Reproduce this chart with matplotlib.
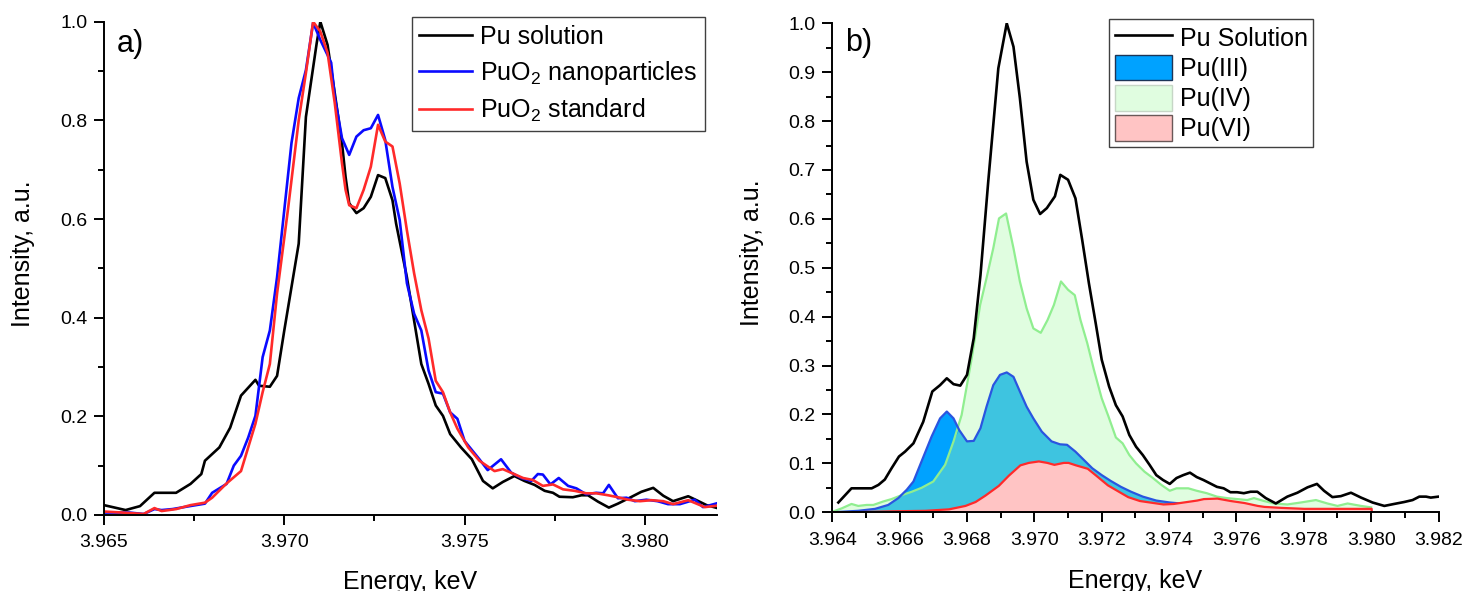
import numpy as np
import matplotlib
matplotlib.use('Agg')
import matplotlib.pyplot as plt
from matplotlib.ticker import MultipleLocator, FormatStrFormatter
from matplotlib.patches import Patch
from matplotlib.lines import Line2D

plt.rcParams['font.family'] = ['Liberation Sans', 'DejaVu Sans']
plt.rcParams['mathtext.fontset'] = 'custom'
plt.rcParams['mathtext.rm'] = 'Liberation Sans'
plt.rcParams['mathtext.it'] = 'Liberation Sans:italic'

# ---- panel a) data ----
sol_a_x = [3.9650, 3.9656, 3.9660, 3.9664, 3.9670, 3.9674, 3.9677, 3.9678, 3.9682, 3.9685,
           3.9688, 3.9692, 3.9693, 3.9696, 3.9698, 3.9700, 3.9704, 3.9706, 3.9709, 3.9710,
           3.9712, 3.9714, 3.9716, 3.9717, 3.9718, 3.9720, 3.9722, 3.9724, 3.9726, 3.9728,
           3.9730, 3.9731, 3.9734, 3.9736, 3.9738, 3.9740, 3.9742, 3.9744, 3.9746, 3.9749,
           3.9752, 3.97551, 3.97578, 3.97606, 3.97638, 3.97666, 3.97694, 3.97722, 3.97745, 3.97763,
           3.97800, 3.97824, 3.97842, 3.97870, 3.97900, 3.97925, 3.97958, 3.97990, 3.98023, 3.98051,
           3.98078, 3.98120, 3.98143, 3.98171, 3.98201]
sol_a_y = [0.020, 0.010, 0.018, 0.045, 0.045, 0.063, 0.083, 0.110, 0.137, 0.177,
           0.242, 0.274, 0.262, 0.260, 0.282, 0.374, 0.550, 0.807, 0.957, 1.000,
           0.953, 0.855, 0.754, 0.685, 0.632, 0.612, 0.622, 0.645, 0.689, 0.683,
           0.638, 0.591, 0.482, 0.394, 0.306, 0.266, 0.222, 0.201, 0.164, 0.137,
           0.113, 0.069, 0.054, 0.067, 0.079, 0.069, 0.061, 0.049, 0.045, 0.037,
           0.036, 0.040, 0.040, 0.027, 0.015, 0.023, 0.035, 0.047, 0.055, 0.039,
           0.028, 0.038, 0.030, 0.020, 0.014]

nano_x = [3.9650, 3.9657, 3.9661, 3.9664, 3.9666, 3.9669, 3.9673, 3.9678, 3.9680, 3.9684,
          3.9686, 3.9688, 3.9690, 3.9692, 3.9694, 3.9696, 3.9698, 3.9700, 3.9702, 3.9704,
          3.9706, 3.9708, 3.9710, 3.9713, 3.9714, 3.9716, 3.9718, 3.9720, 3.9722, 3.9724,
          3.9726, 3.9728, 3.9730, 3.9732, 3.9734, 3.9736, 3.9738, 3.9740, 3.9742, 3.9744,
          3.9746, 3.9748, 3.9750, 3.97541, 3.97564, 3.97601, 3.97629, 3.97657, 3.97685, 3.97703,
          3.97717, 3.97738, 3.97761, 3.97787, 3.97810, 3.97837, 3.97865, 3.97884, 3.97900, 3.97925,
          3.97949, 3.97972, 3.98004, 3.98035, 3.98064, 3.98097, 3.98138, 3.98161, 3.98201]
nano_y = [0.005, 0.005, 0.002, 0.012, 0.010, 0.012, 0.017, 0.023, 0.045, 0.063,
          0.100, 0.120, 0.157, 0.201, 0.320, 0.374, 0.482, 0.618, 0.754, 0.845,
          0.902, 0.998, 0.963, 0.917, 0.848, 0.764, 0.730, 0.767, 0.780, 0.784,
          0.811, 0.760, 0.665, 0.598, 0.470, 0.408, 0.374, 0.293, 0.249, 0.246,
          0.208, 0.195, 0.150, 0.113, 0.091, 0.113, 0.086, 0.075, 0.069, 0.083,
          0.082, 0.062, 0.075, 0.059, 0.054, 0.042, 0.045, 0.044, 0.061, 0.034,
          0.035, 0.028, 0.031, 0.028, 0.022, 0.022, 0.031, 0.016, 0.024]

std_x = [3.9650, 3.9655, 3.9661, 3.9664, 3.9666, 3.9670, 3.9674, 3.9678, 3.9680, 3.9684,
         3.9688, 3.9692, 3.9694, 3.9696, 3.9698, 3.9701, 3.9704, 3.9706, 3.9708, 3.9710,
         3.9712, 3.9714, 3.9716, 3.9717, 3.9718, 3.9720, 3.9722, 3.9724, 3.9726, 3.9728,
         3.9730, 3.9732, 3.9734, 3.9736, 3.9738, 3.9740, 3.9742, 3.9744, 3.9746, 3.9748,
         3.9751, 3.97541, 3.97583, 3.97606, 3.97634, 3.97662, 3.97689, 3.97717, 3.97745, 3.97773,
         3.97805, 3.97837, 3.97865, 3.97898, 3.97925, 3.97953, 3.97986, 3.98018, 3.98051, 3.98078,
         3.98120, 3.98166, 3.98201]
std_y = [0.007, 0.005, 0.002, 0.014, 0.008, 0.012, 0.020, 0.025, 0.035, 0.064,
         0.089, 0.185, 0.249, 0.306, 0.449, 0.618, 0.800, 0.896, 1.000, 0.980,
         0.937, 0.835, 0.713, 0.659, 0.628, 0.622, 0.659, 0.706, 0.791, 0.757,
         0.747, 0.672, 0.577, 0.490, 0.415, 0.358, 0.272, 0.249, 0.208, 0.175,
         0.137, 0.110, 0.089, 0.093, 0.084, 0.075, 0.071, 0.059, 0.062, 0.052,
         0.049, 0.044, 0.044, 0.040, 0.036, 0.031, 0.028, 0.030, 0.028, 0.022,
         0.030, 0.016, 0.019]

# ---- panel b) data ----
sol_b_x = [3.96418, 3.96457, 3.96517, 3.96537, 3.96556, 3.96576, 3.96598, 3.96616, 3.96641, 3.96670,
           3.96697, 3.96720, 3.96740, 3.96760, 3.96780, 3.96800, 3.96820, 3.96840, 3.96863, 3.96893,
           3.96918, 3.96938, 3.96957, 3.96977, 3.96997, 3.97017, 3.97037, 3.97061, 3.97077, 3.97100,
           3.97122, 3.97142, 3.97162, 3.97182, 3.97200, 3.97222, 3.97242, 3.97262, 3.97282, 3.97302,
           3.97322, 3.97342, 3.97362, 3.97382, 3.97402, 3.97422, 3.97442, 3.97462, 3.97482, 3.97502,
           3.97522, 3.97542, 3.97562, 3.97582, 3.97602, 3.97622, 3.97642, 3.97662, 3.97687, 3.97717,
           3.97751, 3.97781, 3.97811, 3.97839, 3.97860, 3.97885, 3.97910, 3.97940, 3.97970, 3.98004,
           3.98039, 3.98068, 3.98098, 3.98123, 3.98143, 3.98163, 3.98177, 3.98200]
sol_b_y = [0.020, 0.049, 0.049, 0.056, 0.067, 0.090, 0.114, 0.124, 0.141, 0.185,
           0.247, 0.260, 0.274, 0.262, 0.259, 0.281, 0.356, 0.485, 0.676, 0.908,
           1.000, 0.952, 0.847, 0.717, 0.639, 0.610, 0.622, 0.646, 0.690, 0.680,
           0.642, 0.557, 0.468, 0.387, 0.312, 0.257, 0.219, 0.196, 0.158, 0.134,
           0.117, 0.097, 0.076, 0.066, 0.058, 0.070, 0.076, 0.081, 0.072, 0.066,
           0.059, 0.052, 0.049, 0.041, 0.041, 0.039, 0.042, 0.042, 0.029, 0.018,
           0.032, 0.040, 0.051, 0.058, 0.044, 0.031, 0.033, 0.040, 0.030, 0.020,
           0.013, 0.017, 0.021, 0.025, 0.032, 0.032, 0.030, 0.032]

pu4_x = [3.96400, 3.96428, 3.96457, 3.96477, 3.96502, 3.96522, 3.96551, 3.96576, 3.96606, 3.96636,
         3.96665, 3.96700, 3.96735, 3.96760, 3.96784, 3.96814, 3.96839, 3.96858, 3.96878, 3.96895,
         3.96916, 3.96938, 3.96957, 3.96977, 3.96997, 3.97019, 3.97039, 3.97058, 3.97079, 3.97100,
         3.97120, 3.97137, 3.97157, 3.97177, 3.97200, 3.97220, 3.97242, 3.97262, 3.97282, 3.97302,
         3.97327, 3.97352, 3.97377, 3.97402, 3.97422, 3.97457, 3.97482, 3.97512, 3.97542, 3.97572,
         3.97602, 3.97632, 3.97652, 3.97682, 3.97712, 3.97751, 3.97791, 3.97836, 3.97870, 3.97900,
         3.97930, 3.97970, 3.98000]
pu4_y = [0.001, 0.008, 0.017, 0.013, 0.015, 0.015, 0.022, 0.027, 0.035, 0.042,
         0.050, 0.063, 0.097, 0.145, 0.199, 0.315, 0.424, 0.479, 0.540, 0.601,
         0.611, 0.540, 0.472, 0.417, 0.376, 0.367, 0.393, 0.424, 0.472, 0.455,
         0.444, 0.393, 0.346, 0.291, 0.233, 0.196, 0.153, 0.141, 0.117, 0.100,
         0.083, 0.070, 0.056, 0.044, 0.049, 0.049, 0.044, 0.039, 0.032, 0.029,
         0.027, 0.025, 0.029, 0.023, 0.018, 0.016, 0.020, 0.025, 0.018, 0.013,
         0.018, 0.013, 0.010]

pu3_x = [3.96400, 3.96477, 3.96527, 3.96566, 3.96596, 3.96621, 3.96641, 3.96665, 3.96695, 3.96720,
         3.96740, 3.96760, 3.96777, 3.96800, 3.96820, 3.96840, 3.96858, 3.96878, 3.96898, 3.96918,
         3.96938, 3.96957, 3.96977, 3.96997, 3.97022, 3.97051, 3.97076, 3.97097, 3.97122, 3.97147,
         3.97172, 3.97200, 3.97227, 3.97257, 3.97287, 3.97322, 3.97362, 3.97402, 3.97450, 3.97500,
         3.97600, 3.97700, 3.97800, 3.97900, 3.98000]
pu3_y = [0.000, 0.003, 0.007, 0.015, 0.029, 0.046, 0.063, 0.104, 0.155, 0.192,
         0.206, 0.192, 0.168, 0.145, 0.146, 0.172, 0.216, 0.260, 0.281, 0.286,
         0.277, 0.247, 0.216, 0.192, 0.165, 0.145, 0.139, 0.138, 0.124, 0.107,
         0.090, 0.076, 0.064, 0.052, 0.042, 0.032, 0.024, 0.020, 0.017, 0.014,
         0.010, 0.007, 0.005, 0.004, 0.003]

pu6_x = [3.96400, 3.96576, 3.96675, 3.96745, 3.96794, 3.96824, 3.96853, 3.96893, 3.96923, 3.96957,
         3.96982, 3.97012, 3.97037, 3.97058, 3.97086, 3.97100, 3.97122, 3.97157, 3.97182, 3.97217,
         3.97247, 3.97277, 3.97312, 3.97352, 3.97382, 3.97412, 3.97452, 3.97482, 3.97502, 3.97542,
         3.97582, 3.97622, 3.97662, 3.97682, 3.97732, 3.97800, 3.98000]
pu6_y = [0.000, 0.003, 0.004, 0.007, 0.014, 0.022, 0.035, 0.055, 0.076, 0.097,
         0.102, 0.105, 0.102, 0.098, 0.102, 0.102, 0.097, 0.090, 0.076, 0.056,
         0.044, 0.032, 0.024, 0.020, 0.017, 0.018, 0.022, 0.025, 0.028, 0.029,
         0.024, 0.020, 0.014, 0.012, 0.010, 0.008, 0.008]


def style_axis(ax):
    ax.spines['top'].set_visible(False)
    ax.spines['right'].set_visible(False)
    ax.spines['left'].set_linewidth(1.4)
    ax.spines['bottom'].set_linewidth(1.4)
    ax.tick_params(which='major', direction='out', length=7, width=1.4, labelsize=14, pad=5)
    ax.tick_params(which='minor', direction='out', length=4, width=1.4)
    ax.tick_params(axis='x', which='major', pad=7)


fig = plt.figure(figsize=(14.64, 5.91), dpi=100)

# panel a
ax1 = fig.add_axes([0.0710, 0.1286, 0.4188, 0.8347])
ax1.plot(sol_a_x, sol_a_y, color='black', lw=1.9, label='Pu solution')
ax1.plot(nano_x, nano_y, color='#0a0aff', lw=1.9, label='PuO$_2$ nanoparticles')
ax1.plot(std_x, std_y, color='#ff2a2a', lw=1.9, label='PuO$_2$ standard')
ax1.set_xlim(3.965, 3.982)
ax1.set_ylim(0, 1.0)
ax1.xaxis.set_major_locator(MultipleLocator(0.005))
ax1.xaxis.set_minor_locator(MultipleLocator(0.0025))
ax1.yaxis.set_major_locator(MultipleLocator(0.2))
ax1.yaxis.set_minor_locator(MultipleLocator(0.1))
ax1.xaxis.set_major_formatter(FormatStrFormatter('%.3f'))
ax1.yaxis.set_major_formatter(FormatStrFormatter('%.1f'))
style_axis(ax1)
ax1.set_xlabel('Energy, keV', fontsize=18)
ax1.set_ylabel('Intensity, a.u.', fontsize=18)
ax1.xaxis.set_label_coords(0.5, -0.111)
ax1.yaxis.set_label_coords(-0.112, 0.53)
ax1.text(0.021, 0.955, 'a)', transform=ax1.transAxes, fontsize=22, va='center', ha='left')
leg1 = ax1.legend(loc='upper left', bbox_to_anchor=(0.5024, 1.0095), borderaxespad=0,
                  fontsize=18, handlelength=2.1, handletextpad=0.32, labelspacing=0.4,
                  borderpad=0.3, fancybox=False, framealpha=1, edgecolor='#404040')
leg1.get_frame().set_linewidth(1.0)

# panel b
ax2 = fig.add_axes([0.5685, 0.1332, 0.4141, 0.8274])
ax2.fill_between(pu4_x, 0, pu4_y, facecolor='#e0fde0', edgecolor='none', zorder=1)
ax2.fill_between(pu3_x, 0, pu3_y, facecolor='#00a2ff', edgecolor='none', zorder=1.1)
overlap_y = np.minimum(np.interp(pu3_x, pu4_x, pu4_y), pu3_y)
ax2.fill_between(pu3_x, 0, overlap_y, facecolor='#3ec4e0', edgecolor='none', zorder=1.2)
ax2.plot(pu4_x, pu4_y, color='#90ee90', lw=1.6, zorder=1.3)
ax2.plot(pu3_x, pu3_y, color='#2a55e0', lw=1.6, zorder=1.4)
ax2.fill_between(pu6_x, 0, pu6_y, facecolor='#ffc4c4', edgecolor='#ff2a2a', lw=1.6, zorder=1.5)
ax2.plot(sol_b_x, sol_b_y, color='black', lw=1.9, zorder=2)
ax2.set_xlim(3.964, 3.982)
ax2.set_ylim(0, 1.0)
ax2.xaxis.set_major_locator(MultipleLocator(0.002))
ax2.xaxis.set_minor_locator(MultipleLocator(0.001))
ax2.yaxis.set_major_locator(MultipleLocator(0.1))
ax2.yaxis.set_minor_locator(MultipleLocator(0.05))
ax2.xaxis.set_major_formatter(FormatStrFormatter('%.3f'))
ax2.yaxis.set_major_formatter(FormatStrFormatter('%.1f'))
style_axis(ax2)
ax2.set_xlabel('Energy, keV', fontsize=18)
ax2.set_ylabel('Intensity, a.u.', fontsize=18)
ax2.xaxis.set_label_coords(0.5, -0.117)
ax2.yaxis.set_label_coords(-0.112, 0.53)
ax2.text(0.021, 0.96, 'b)', transform=ax2.transAxes, fontsize=22, va='center', ha='left')
handles_b = [
    Line2D([], [], color='black', lw=1.9),
    Patch(facecolor='#00a2ff', edgecolor='#1d3557', lw=1.0),
    Patch(facecolor='#e0fde0', edgecolor='#c6d6c6', lw=1.0),
    Patch(facecolor='#ffc4c4', edgecolor='#6a5858', lw=1.0),
]
leg2 = ax2.legend(handles_b, ['Pu Solution', 'Pu(III)', 'Pu(IV)', 'Pu(VI)'],
                  loc='upper left', bbox_to_anchor=(0.4565, 1.0088), borderaxespad=0,
                  fontsize=18, handlelength=2.3, handleheight=1.2, handletextpad=0.3,
                  labelspacing=0.16, borderpad=0.22, fancybox=False, framealpha=1,
                  edgecolor='#404040')
leg2.get_frame().set_linewidth(1.0)

fig.savefig('out.png', dpi=100)
